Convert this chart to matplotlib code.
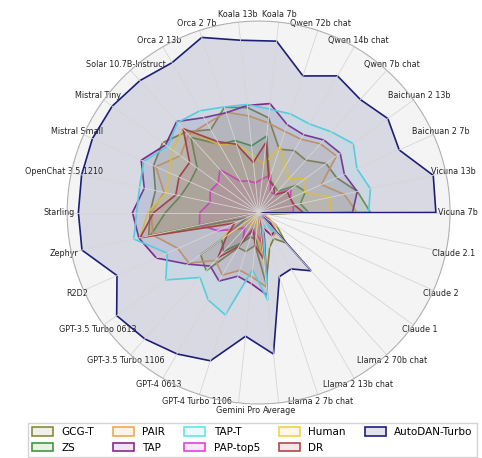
import numpy as np
import matplotlib
matplotlib.use("Agg")
import matplotlib.pyplot as plt
from matplotlib.colors import to_rgba


MODELS = [
    "Vicuna 7b", "Vicuna 13b", "Baichuan 2 7b", "Baichuan 2 13b",
    "Qwen 7b chat", "Qwen 14b chat", "Qwen 72b chat", "Koala 7b", "Koala 13b",
    "Orca 2 7b", "Orca 2 13b", "Solar 10.7B-Instruct", "Mistral Tiny",
    "Mistral Small", "OpenChat 3.5 1210", "Starling", "Zephyr", "R2D2",
    "GPT-3.5 Turbo 0613", "GPT-3.5 Turbo 1106", "GPT-4 0613",
    "GPT-4 Turbo 1106", "Gemini Pro", "Average", "Llama 2 7b chat",
    "Llama 2 13b chat", "Llama 2 70b chat", "Claude 1", "Claude 2", "Claude 2.1",
]

# attack success rate (%) per model, same order as MODELS
gcg_t = [60.8, 54.9, 46.4, 45.3, 38.3, 38.8, 36.2, 51.7, 57.3, 60.1, 52.0, 58.9,
         64.5, 62.5, 57.3, 59.0, 61.0, 0.0, 38.9, 42.5, 22.0, 22.3, 18.0, 38.8,
         19.7, 16.4, 22.1, 12.1, 2.7, 2.6]
zs = [27.2, 23.2, 27.9, 25.0, 15.6, 16.9, 19.1, 41.8, 36.4, 41.1, 42.8, 54.9,
      41.3, 40.8, 43.3, 50.6, 60.0, 7.2, 24.8, 28.4, 19.4, 13.9, 14.8, 25.4,
      2.0, 2.9, 3.0, 4.8, 4.1, 4.1]
pair = [53.5, 47.5, 37.3, 52.3, 50.2, 46.0, 46.3, 49.0, 52.8, 57.3, 55.8, 56.8,
        52.5, 61.1, 52.5, 58.3, 58.8, 48.0, 46.8, 35.0, 39.3, 33.0, 35.1, 40.7,
        9.3, 15.0, 14.5, 10.0, 4.8, 2.8]
tap = [51.0, 54.8, 51.0, 54.8, 53.0, 48.8, 50.2, 59.5, 58.5, 57.0, 59.5, 66.5,
       62.5, 69.8, 63.5, 68.5, 66.5, 60.8, 47.7, 39.2, 43.0, 36.4, 38.8, 45.2,
       9.3, 14.2, 13.3, 7.0, 2.0, 2.5]
tap_t = [59.8, 62.1, 58.5, 63.6, 59.0, 55.5, 56.3, 56.5, 59.0, 60.3, 63.8, 65.8,
         61.1, 68.3, 66.1, 66.3, 69.3, 54.3, 62.3, 47.5, 54.8, 58.5, 31.2, 48.1,
         7.8, 8.0, 16.3, 1.5, 0.8, 0.8]
pap_top5 = [18.9, 19.3, 19.0, 21.7, 13.3, 12.8, 21.6, 18.3, 16.2, 18.1, 19.6,
            31.3, 27.2, 28.8, 26.9, 31.9, 32.9, 24.3, 15.4, 11.3, 16.8, 11.1,
            11.8, 16.6, 2.7, 3.3, 4.1, 1.3, 1.0, 0.9]
human = [39.0, 40.0, 27.2, 31.9, 24.6, 29.0, 37.8, 26.4, 31.3, 39.2, 42.4, 61.2,
         58.0, 53.3, 51.3, 60.2, 66.0, 13.6, 24.5, 2.8, 11.3, 2.6, 12.1, 27.4,
         0.8, 1.7, 2.2, 2.4, 0.3, 0.3]
dr = [24.3, 19.8, 18.8, 19.3, 13.0, 16.5, 18.3, 38.3, 27.3, 39.0, 44.5, 61.3,
      46.3, 47.3, 46.0, 57.0, 65.8, 14.2, 21.3, 33.0, 21.0, 9.3, 18.0, 25.3,
      0.8, 2.8, 2.8, 5.0, 2.0, 2.0]
autodan_turbo = [96.3, 97.0, 83.6, 86.8, 82.6, 85.7, 78.0, 93.6, 94.1, 100.0,
                 94.0, 96.4, 98.3, 98.8, 98.3, 97.9, 98.1, 84.2, 95.3, 92.4,
                 88.7, 84.7, 67.6, 77.3, 36.6, 35.4, 42.6, 1.5, 1.0, 1.0]

SERIES = [
    ("GCG-T", gcg_t, "#8a8a3c"),
    ("ZS", zs, "#3f9a3f"),
    ("PAIR", pair, "#eeaa4e"),
    ("TAP", tap, "#8a2a8a"),
    ("TAP-T", tap_t, "#5fe6ea"),
    ("PAP-top5", pap_top5, "#dd44dd"),
    ("Human", human, "#f0d24a"),
    ("DR", dr, "#b04848"),
    ("AutoDAN-Turbo", autodan_turbo, "#1e1e78"),
]

fig = plt.figure(figsize=(4.82, 4.58), dpi=100)
ax = fig.add_axes([0.139, 0.118, 0.795, 0.836], projection="polar")
ax.set_facecolor("#f4f4f4")

angles = np.linspace(0, 2 * np.pi, len(MODELS), endpoint=False)
closed = np.append(angles, angles[0])

for name, vals, color in SERIES:
    v = np.append(vals, vals[0])
    ax.fill(closed, v, facecolor=to_rgba(color, 0.12), edgecolor=color,
            linewidth=1.2, label=name)

ax.set_ylim(0, 104)
ax.set_yticks([])
ax.set_xticks(angles)
ax.set_xticklabels(MODELS, fontsize=5.8, color="#222222")
# labels sit partly over the rim, as in the paper figure
ax.tick_params(axis="x", pad=-5)
ax.xaxis.grid(True, color="#d6d6d6", linewidth=0.6)
ax.spines["polar"].set_color("#b0b0b0")
ax.spines["polar"].set_linewidth(0.8)

fig.legend(loc="upper left", bbox_to_anchor=(0.058, 0.076), ncol=5,
           fontsize=7.5, frameon=True, edgecolor="#c8c8c8", fancybox=False,
           borderaxespad=0.0, handleheight=0.9, columnspacing=1.85)

fig.savefig("out.png", dpi=100)
